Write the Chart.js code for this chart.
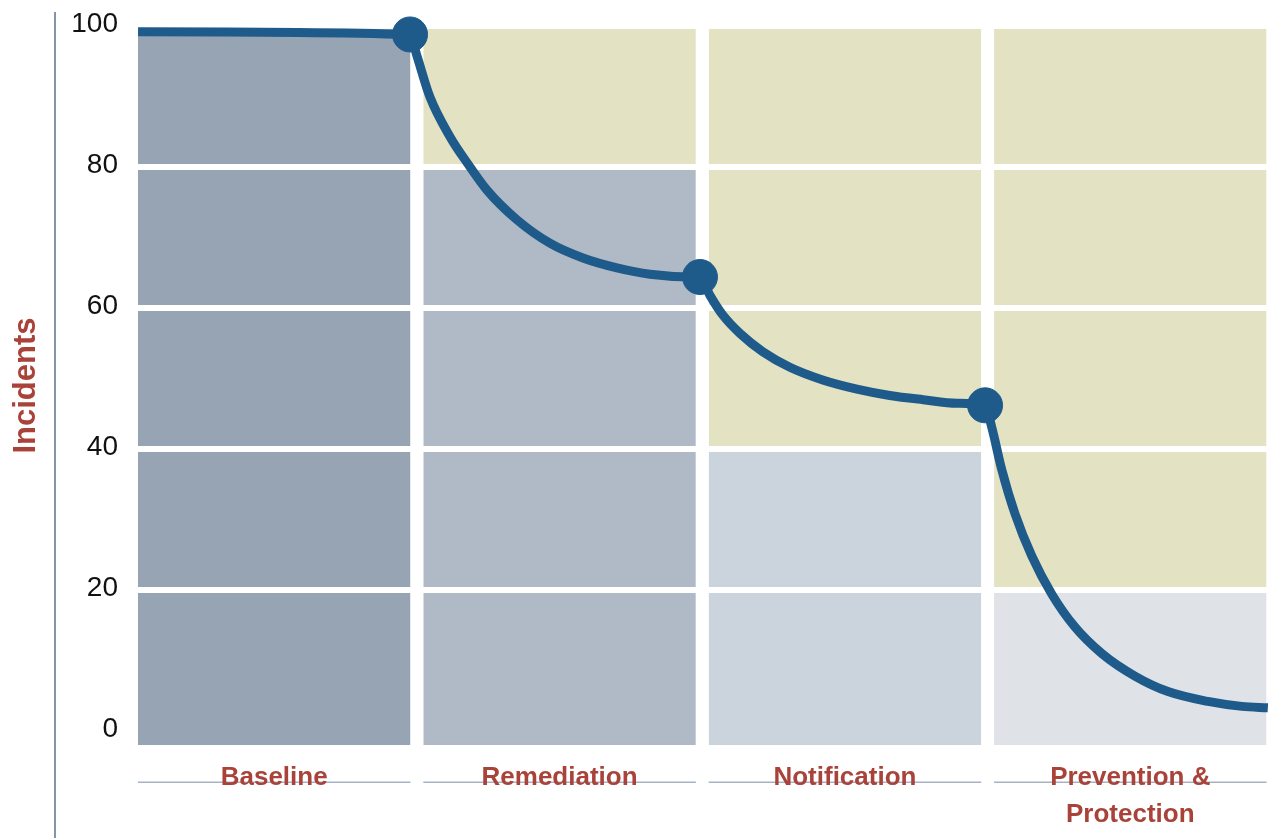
<!DOCTYPE html>
<html>
<head>
<meta charset="utf-8">
<script src="https://cdn.jsdelivr.net/npm/chart.js@4"></script>
<style>
  html, body { margin: 0; padding: 0; background: #fff; }
  #wrap { width: 1273px; height: 838px; position: relative; }
</style>
</head>
<body>
<div id="wrap"><canvas id="stageChart"></canvas></div>
<script>
// categories and cell data
const stages = ['Baseline', 'Remediation', 'Notification', ['Prevention &', 'Protection']];
const grayTops = [100, 80, 40, 20];               // height of the grey block in each column
const rowBands = [[-2, 20], [20, 40], [40, 60], [60, 80], [80, 99.6]];
const yTicks = [0, 20, 40, 60, 80, 100];

// incident curve (x in stage units, 0 = left edge of first stage band)
const curveX = [0.023, 0.976, 1.000, 1.046, 1.116, 1.176, 1.246, 1.351, 1.466, 1.582, 1.701, 1.817, 1.967, 1.992,
                2.027, 2.072, 2.132, 2.212, 2.307, 2.422, 2.542, 2.657, 2.774, 2.893, 2.991,
                3.015, 3.050, 3.096, 3.155, 3.225, 3.305, 3.400, 3.516, 3.632, 3.772, 3.891, 3.982];
const curveY = [99.2, 98.8, 95.8, 89.9, 84.3, 80.6, 76.7, 72.5, 69.2, 67.1, 65.7, 64.8, 64.4, 64.4,
                61.8, 59.0, 56.4, 53.8, 51.6, 49.8, 48.5, 47.6, 47.0, 46.5, 46.2,
                43.0, 37.0, 30.8, 24.8, 19.4, 14.8, 11.0, 7.8, 5.6, 4.2, 3.5, 3.3];
const markerAt = [0.976, 1.992, 2.991];

const grayColors = ['#97a4b4', '#b0bac7', '#cbd3dc', '#dfe3e8'];
const khaki = '#e3e3c3';
const lineBlue = '#1f5b8a';
const labelRed = '#a9433a';

const barSets = rowBands.map(function(band, r) {
    return {
        type: 'bar',
        data: stages.map(function() { return band; }),
        backgroundColor: grayTops.map(function(top, i) { return band[1] <= top ? grayColors[i] : khaki; }),
        borderColor: '#ffffff',
        borderWidth: {
            top: r === rowBands.length - 1 ? 0 : 3,
            bottom: r === 0 ? 0 : 3,
            left: 0,
            right: 0
        },
        borderSkipped: false,
        grouped: false,
        barPercentage: 0.955,
        categoryPercentage: 1,
        order: 2
    };
});

const curveSet = {
    type: 'line',
    xAxisID: 'xLine',
    data: curveX.map(function(x, i) { return { x: x, y: curveY[i] }; }),
    borderColor: lineBlue,
    borderWidth: 9,
    cubicInterpolationMode: 'monotone',
    pointRadius: curveX.map(function(x) { return markerAt.indexOf(x) >= 0 ? 17.5 : 0; }),
    pointBackgroundColor: lineBlue,
    pointBorderColor: lineBlue,
    pointBorderWidth: 1,
    clip: false,
    order: 0
};

// thin rules under each stage label and the long left axis line
const decorations = {
    id: 'decorations',
    beforeDraw: function(chart) {
        const ctx = chart.ctx;
        const area = chart.chartArea;
        const yScale = chart.scales.y;
        ctx.save();
        ctx.strokeStyle = '#a6b3c5';
        ctx.lineWidth = 1.5;
        chart.getDatasetMeta(0).data.forEach(function(bar) {
            const half = bar.width / 2;
            ctx.beginPath();
            ctx.moveTo(bar.x - half, area.bottom + 37);
            ctx.lineTo(bar.x + half, area.bottom + 37);
            ctx.stroke();
        });
        ctx.strokeStyle = '#8595a8';
        ctx.lineWidth = 2;
        ctx.beginPath();
        ctx.moveTo(yScale.left + 55, area.top - 14);
        ctx.lineTo(yScale.left + 55, chart.height);
        ctx.stroke();
        ctx.restore();
    }
};

new Chart(document.getElementById('stageChart'), {
    data: { labels: stages, datasets: barSets.concat([curveSet]) },
    options: {
        responsive: true,
        maintainAspectRatio: false,
        animation: false,
        layout: { padding: { top: 26, left: 0, right: 0, bottom: -9 } },
        plugins: { legend: { display: false }, tooltip: { enabled: false } },
        scales: {
            x: {
                type: 'category',
                grid: { display: false, drawTicks: false },
                border: { display: false },
                ticks: {
                    color: labelRed,
                    padding: 14,
                    maxRotation: 0,
                    font: { family: 'Liberation Sans, Arial, sans-serif', size: 26, weight: 'bold', lineHeight: 1.42 }
                }
            },
            xLine: {
                type: 'linear',
                min: 0,
                max: 4,
                display: false
            },
            y: {
                min: -2,
                max: 100,
                afterBuildTicks: function(scale) {
                    scale.ticks = yTicks.map(function(v) { return { value: v }; });
                },
                afterFit: function(scale) {
                    scale.width = 131.5;
                    scale.paddingTop = 0;
                },
                grid: { display: false, drawTicks: false },
                border: { display: false },
                ticks: {
                    color: '#111111',
                    padding: 13.5,
                    labelOffset: -2,
                    font: { family: 'Liberation Sans, Arial, sans-serif', size: 28 }
                },
                title: {
                    display: true,
                    text: 'Incidents',
                    color: labelRed,
                    padding: { top: 8, bottom: 12 },
                    font: { family: 'Liberation Sans, Arial, sans-serif', size: 31, weight: 'bold' }
                }
            }
        }
    },
    plugins: [decorations]
});
</script>
</body>
</html>
